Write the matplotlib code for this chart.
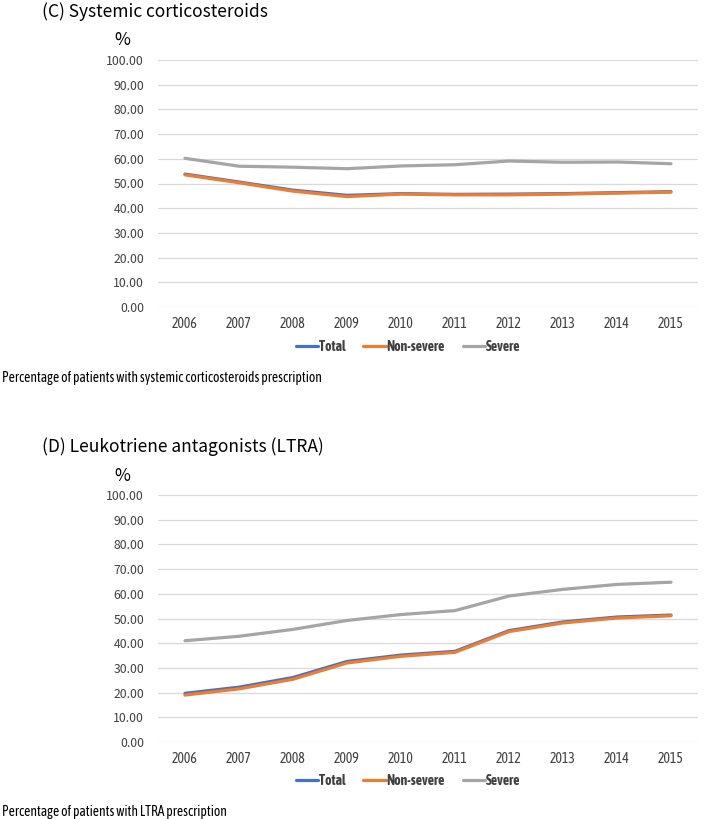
import matplotlib.pyplot as plt

plt.rcParams['font.family'] = ['Noto Sans CJK KR', 'DejaVu Sans']

# data
years = ['2006', '2007', '2008', '2009', '2010', '2011', '2012', '2013', '2014', '2015']

ocs_total = [53.8, 50.6, 47.3, 45.2, 45.9, 45.6, 45.7, 45.9, 46.3, 46.7]
ocs_nonsevere = [53.5, 50.3, 46.9, 44.7, 45.7, 45.4, 45.4, 45.7, 46.1, 46.5]
ocs_severe = [60.2, 57.0, 56.6, 56.0, 57.1, 57.6, 59.1, 58.6, 58.7, 58.0]

ltra_total = [19.7, 22.2, 26.1, 32.6, 35.2, 36.7, 45.1, 48.6, 50.6, 51.4]
ltra_nonsevere = [19.0, 21.5, 25.4, 32.0, 34.7, 36.3, 44.7, 48.2, 50.2, 51.1]
ltra_severe = [41.0, 42.8, 45.6, 49.2, 51.6, 53.2, 59.1, 61.8, 63.8, 64.7]

yticks = [0, 10, 20, 30, 40, 50, 60, 70, 80, 90, 100]

W, H = 715, 819
fig = plt.figure(figsize=(W / 100, H / 100), dpi=100)

narrow = ['Asap Condensed', 'Archivo Narrow', 'DejaVu Sans']


def panel(top_px, bottom_px, title, title_y, pct_y, caption, caption_y, leg_y, series):
    ax = fig.add_axes([158 / W, 1 - bottom_px / H, 540 / W, (bottom_px - top_px) / H])
    x = range(len(years))
    for vals, lab, col in series:
        ax.plot(x, vals, color=col, lw=2.3, label=lab, solid_capstyle='round')
    ax.set_xlim(-0.5, len(years) - 0.5)
    ax.set_ylim(0, 100)
    ax.set_yticks(yticks)
    ax.set_yticklabels(['%.2f' % v for v in yticks], fontsize=8.8, color='#404040')
    ax.set_xticks(list(x))
    ax.set_xticklabels(years, fontsize=10, color='#404040', family=narrow)
    ax.tick_params(length=0, pad=7)
    ax.tick_params(axis='y', pad=10)
    ax.grid(axis='y', color='#D9D9D9', lw=0.9)
    ax.set_axisbelow(True)
    for s in ax.spines.values():
        s.set_visible(False)
    fig.text(42 / W, 1 - title_y / H, title, fontsize=12.5, va='center', ha='left')
    fig.text(122 / W, 1 - pct_y / H, '%', fontsize=12.5, va='center', ha='center')
    fig.text(2 / W, 1 - caption_y / H, caption, fontsize=9.8, va='center', ha='left',
             family=narrow)
    leg = ax.legend(loc='center', bbox_to_anchor=(408 / W, 1 - leg_y / H),
                    bbox_transform=fig.transFigure, ncol=3,
                    frameon=False, handlelength=1.6, handletextpad=0.05, columnspacing=1.3,
                    prop={'family': narrow, 'weight': 'bold', 'size': 10})
    for t in leg.get_texts():
        t.set_color('#404040')
    return ax


panel(60, 307, '(C) Systemic corticosteroids', 12, 40,
      'Percentage of patients with systemic corticosteroids prescription', 378, 347,
      [(ocs_total, 'Total', '#4472C4'), (ocs_nonsevere, 'Non-severe', '#ED7D31'),
       (ocs_severe, 'Severe', '#A5A5A5')])

panel(495, 742, '(D) Leukotriene antagonists (LTRA)', 447, 476,
      'Percentage of patients with LTRA prescription', 812, 781,
      [(ltra_total, 'Total', '#4472C4'), (ltra_nonsevere, 'Non-severe', '#ED7D31'),
       (ltra_severe, 'Severe', '#A5A5A5')])

plt.savefig('out.png', dpi=100)
